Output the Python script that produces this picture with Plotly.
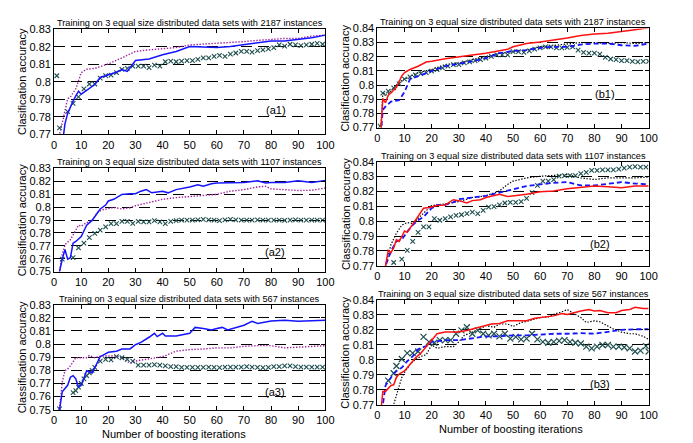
import plotly.graph_objects as go

# ---------------- data ----------------
iters_ticks = [0, 10, 20, 30, 40, 50, 60, 70, 80, 90, 100]
a_ticks = [0.75, 0.76, 0.77, 0.78, 0.79, 0.80, 0.81, 0.82, 0.83]
a_ticktext = ["0.75", "0.76", "0.77", "0.78", "0.79", "0.8", "0.81", "0.82", "0.83"]
b_ticks = [0.77, 0.78, 0.79, 0.80, 0.81, 0.82, 0.83, 0.84]
b_ticktext = ["0.77", "0.78", "0.79", "0.8", "0.81", "0.82", "0.83", "0.84"]

titles = [
    "Training on 3 equal size distributed data sets with 2187 instances",
    "Training on 3 equal size distributed data sets with 2187 instances",
    "Training on 3 equal size distributed data sets with 1107 instances",
    "Training on 3 equal size distributed data sets with 1107 instances",
    "Training on 3 equal size distributed data sets with 567 instances",
    "Training on 3 equal size distributed data sets of size 567 instances",
]
ylabels = ["Clasification accuracy", "Clasification accuracy",
           "Classification accuracy", "Classification accuracy",
           "Classification accuracy", "Classification accuracy"]
panel_tags = ["(a1)", "(b1)", "(a2)", "(b2)", "(a3)", "(b3)"]
tag_x = [82, 84, 81.5, 82, 81.5, 82]
tag_y = [0.7838, 0.7935, 0.765, 0.7844, 0.7636, 0.7836]
xlabel = "Number of boosting iterations"

# (a1)
a1_blue_x = [1, 3, 4, 5, 6, 7, 8, 9, 10, 12, 13, 15, 17, 20, 23, 25, 27, 30, 35, 40,
             45, 50, 55, 60, 65, 70, 75, 80, 85, 90, 95, 100]
a1_blue_y = [0.74, 0.765, 0.776, 0.782, 0.786, 0.789, 0.792, 0.7947, 0.793, 0.795,
             0.796, 0.7985, 0.8025, 0.804, 0.8055, 0.807, 0.806, 0.8122, 0.8131, 0.8155,
             0.8174, 0.8202, 0.82, 0.8196, 0.8202, 0.8211, 0.8224, 0.8233, 0.8233, 0.8243,
             0.8252, 0.8267]
a1_mag_x = [1, 2, 3, 4, 5, 6, 8, 10, 12, 15, 18, 20, 25, 28, 30, 35, 40, 45, 50, 55,
            60, 65, 70, 75, 80, 85, 90, 95, 100]
a1_mag_y = [0.75, 0.77, 0.7765, 0.783, 0.7904, 0.7914, 0.796, 0.8053, 0.8072, 0.8077,
            0.809, 0.8103, 0.8137, 0.8159, 0.8174, 0.8183, 0.8189, 0.8196, 0.8211, 0.8215,
            0.8219, 0.8226, 0.823, 0.8237, 0.8243, 0.8248, 0.8248, 0.8261, 0.8267]
a1_x_x = [1, 2] + list(range(5, 100, 2))
a1_x_y = [0.8035, 0.7737, 0.783, 0.7877, 0.7914, 0.796, 0.7988, 0.7988, 0.8022, 0.8036,
          0.8038, 0.8053, 0.8072, 0.8077, 0.809, 0.809, 0.809, 0.8081, 0.8096, 0.809,
          0.8115, 0.8118, 0.8115, 0.8118, 0.8122, 0.8122, 0.8128, 0.8137, 0.8137, 0.8146,
          0.8152, 0.8146, 0.8159, 0.8165, 0.8174, 0.8174, 0.8170, 0.8178, 0.8183, 0.8189,
          0.8196, 0.8211, 0.8204, 0.8215, 0.8211, 0.8207, 0.8211, 0.8215, 0.822, 0.8215]

# (b1)
b1_red_x = [1, 2, 3, 4, 5, 7, 9, 10, 12, 15, 18, 20, 25, 30, 35, 40, 45, 48, 50, 55,
            60, 65, 70, 75, 80, 85, 90, 95, 100]
b1_red_y = [0.76, 0.7905, 0.7875, 0.7928, 0.7944, 0.7985, 0.8065, 0.8088, 0.811, 0.8133,
            0.8163, 0.8168, 0.8186, 0.8202, 0.8213, 0.8225, 0.8241, 0.8252, 0.827, 0.8293,
            0.8304, 0.8316, 0.8332, 0.835, 0.8361, 0.8366, 0.8377, 0.8391, 0.8405]
b1_blue_x = [1, 2, 3, 5, 8, 10, 12, 15, 20, 25, 30, 35, 40, 45, 50, 55, 60, 65, 70, 75,
             80, 85, 90, 95, 100]
b1_blue_y = [0.76, 0.7825, 0.7849, 0.7883, 0.7894, 0.7951, 0.8042, 0.8065, 0.8099, 0.8133,
             0.8149, 0.8168, 0.819, 0.8225, 0.8241, 0.8247, 0.8263, 0.827, 0.827, 0.8286,
             0.8293, 0.8293, 0.8281, 0.8277, 0.8293]
b1_black_x = [1, 2, 3, 5, 8, 10, 15, 20, 25, 30, 35, 40, 45, 50, 55, 60, 65, 70, 75, 80,
              85, 90, 95, 100]
b1_black_y = [0.76, 0.7951, 0.7928, 0.7958, 0.802, 0.8042, 0.8088, 0.811, 0.8145, 0.8156,
              0.8179, 0.8202, 0.8225, 0.8236, 0.8247, 0.827, 0.8281, 0.8293, 0.83, 0.83,
              0.8293, 0.83, 0.8293, 0.83]
b1_x_x = [1] + list(range(2, 101, 2))
b1_x_y = [0.7711, 0.7944, 0.7958, 0.798, 0.8008, 0.8042, 0.8058, 0.8072, 0.8081, 0.8088,
          0.8099, 0.811, 0.8122, 0.8133, 0.8145, 0.8145, 0.8156, 0.8163, 0.8172, 0.8179,
          0.819, 0.8202, 0.8213, 0.8213, 0.8213, 0.8236, 0.8236, 0.8231, 0.8241, 0.8254,
          0.8263, 0.827, 0.827, 0.8263, 0.8263, 0.8266, 0.827, 0.8247, 0.8231, 0.8225,
          0.8225, 0.8218, 0.8195, 0.8184, 0.8179, 0.8172, 0.8172, 0.8168, 0.8163, 0.8168,
          0.8168]

# (a2)
a2_blue_x = [1, 2, 3, 4, 5, 6, 7, 8, 10, 12, 14, 15, 17, 19, 20, 22, 25, 28, 30, 32,
             34, 36, 40, 42, 45, 50, 53, 55, 58, 60, 65, 70, 75, 78, 80, 85, 90, 95, 100]
a2_blue_y = [0.73, 0.75, 0.7596, 0.7671, 0.7596, 0.7608, 0.7721, 0.7734, 0.7772, 0.786,
             0.7897, 0.793, 0.7986, 0.8016, 0.8048, 0.8061, 0.8099, 0.8104, 0.8104, 0.8124,
             0.8136, 0.8111, 0.8124, 0.8111, 0.8136, 0.8157, 0.8174, 0.8162, 0.8182, 0.8187,
             0.8187, 0.8192, 0.8204, 0.8187, 0.8192, 0.8192, 0.8204, 0.8192, 0.8207]
a2_mag_x = [1, 2, 3, 4, 6, 7, 9, 10, 12, 14, 16, 18, 20, 22, 25, 28, 30, 35, 40, 45,
            50, 55, 60, 65, 70, 75, 78, 80, 85, 90, 95, 100]
a2_mag_y = [0.73, 0.75, 0.7633, 0.7709, 0.7747, 0.7789, 0.786, 0.7852, 0.788, 0.7897,
            0.796, 0.798, 0.799, 0.7998, 0.7986, 0.7995, 0.8011, 0.8036, 0.8061, 0.8074,
            0.8081, 0.8091, 0.8099, 0.8124, 0.8136, 0.8157, 0.8162, 0.8142, 0.8136, 0.8129,
            0.8131, 0.8149]
a2_x_x = [3] + list(range(7, 100, 2))
a2_x_y = [0.7596, 0.7608, 0.7684, 0.7721, 0.7764, 0.7797, 0.7822, 0.7847, 0.7872, 0.7872,
          0.789, 0.789, 0.7875, 0.789, 0.7885, 0.7885, 0.7895, 0.7885, 0.7872, 0.789,
          0.7895, 0.79, 0.79, 0.79, 0.7902, 0.7905, 0.7902, 0.79, 0.7895, 0.7902,
          0.7905, 0.7902, 0.79, 0.79, 0.79, 0.7902, 0.79, 0.79, 0.79, 0.79,
          0.7898, 0.79, 0.7902, 0.79, 0.79, 0.79, 0.79, 0.79]

# (b2)
b2_red_x = [1, 3, 4, 5, 6, 7, 8, 9, 10, 11, 13, 15, 17, 19, 22, 25, 28, 30, 33, 35,
            38, 40, 43, 45, 48, 50, 55, 60, 65, 70, 75, 80, 85, 90, 95, 100]
b2_red_y = [0.75, 0.77, 0.7803, 0.7788, 0.782, 0.7875, 0.7864, 0.7897, 0.7934, 0.7925,
            0.7978, 0.8039, 0.8087, 0.8092, 0.8105, 0.8109, 0.8144, 0.8138, 0.8122, 0.8138,
            0.8144, 0.8159, 0.817, 0.8181, 0.8166, 0.817, 0.8181, 0.8197, 0.8203, 0.8218,
            0.8225, 0.8236, 0.8232, 0.8225, 0.8236, 0.8236]
b2_blue_x = [1, 3, 5, 7, 9, 11, 13, 15, 17, 20, 22, 25, 28, 30, 35, 40, 45, 50, 55, 60,
             65, 70, 75, 80, 85, 90, 95, 100]
b2_blue_y = [0.75, 0.77, 0.7798, 0.7864, 0.7875, 0.793, 0.7973, 0.8006, 0.8028, 0.8087,
             0.8109, 0.8109, 0.8127, 0.8148, 0.8159, 0.817, 0.8192, 0.8214, 0.8236, 0.8247,
             0.8258, 0.8262, 0.824, 0.824, 0.8253, 0.8262, 0.8253, 0.8247]
b2_black_x = [1, 3, 5, 7, 9, 11, 13, 15, 18, 20, 25, 30, 35, 40, 45, 48, 50, 55, 60, 65,
              70, 75, 80, 85, 90, 95, 100]
b2_black_y = [0.75, 0.77, 0.7842, 0.7919, 0.7973, 0.7991, 0.7984, 0.8017, 0.8072, 0.8105,
              0.8116, 0.8131, 0.8159, 0.817, 0.8203, 0.8247, 0.8269, 0.8291, 0.8302, 0.8306,
              0.8313, 0.8291, 0.828, 0.8291, 0.8291, 0.8291, 0.8297]
b2_x_x = [6, 9] + list(range(11, 100, 2))
b2_x_y = [0.7722, 0.7744, 0.7803, 0.7864, 0.7925, 0.7962, 0.7962, 0.8017, 0.8006, 0.8017,
          0.8028, 0.8039, 0.8043, 0.805, 0.8061, 0.805, 0.8072, 0.8094, 0.8098, 0.8109,
          0.8122, 0.8127, 0.8127, 0.8131, 0.8153, 0.8192, 0.824, 0.8269, 0.8269, 0.828,
          0.8302, 0.8306, 0.8306, 0.8306, 0.8319, 0.8328, 0.8341, 0.8341, 0.8345, 0.8345,
          0.8345, 0.835, 0.8356, 0.8363, 0.8367, 0.8363, 0.8363]

# (a3)
a3_blue_x = [1, 2, 3, 5, 6, 7, 8, 9, 10, 11, 12, 14, 15, 17, 20, 23, 25, 28, 30, 32,
             35, 37, 38, 40, 41, 45, 50, 52, 55, 58, 60, 62, 64, 66, 70, 73, 75, 80, 85, 90,
             95, 100]
a3_blue_y = [0.72, 0.75, 0.7636, 0.7686, 0.7748, 0.776, 0.7735, 0.7673, 0.7686, 0.7748,
             0.7797, 0.778, 0.7822, 0.7904, 0.7938, 0.7946, 0.7963, 0.7963, 0.7995, 0.8013,
             0.8052, 0.8082, 0.8057, 0.8082, 0.8062, 0.8062, 0.8082, 0.8127, 0.8119, 0.8107,
             0.8119, 0.8127, 0.8107, 0.8119, 0.8144, 0.8174, 0.8157, 0.8176, 0.8181, 0.8174,
             0.8176, 0.8181]
a3_mag_x = [1, 2, 3, 4, 5, 6, 8, 10, 12, 13, 15, 17, 20, 23, 25, 27, 28, 30, 35, 40,
            45, 50, 55, 60, 65, 70, 75, 80, 85, 90, 95, 100]
a3_mag_y = [0.73, 0.75, 0.7711, 0.7797, 0.781, 0.7834, 0.7896, 0.7896, 0.7896, 0.7913,
            0.7896, 0.7909, 0.7909, 0.7909, 0.7896, 0.7871, 0.7854, 0.7871, 0.7889, 0.7904,
            0.7946, 0.7958, 0.7963, 0.7971, 0.7971, 0.7983, 0.7988, 0.7988, 0.7971, 0.7978,
            0.7983, 0.7988]
a3_x_x = [2, 7, 8, 9, 10, 11, 12, 13, 14, 15] + list(range(17, 100, 2))
a3_x_y = [0.7507, 0.7631, 0.7645, 0.7673, 0.770, 0.7735, 0.776, 0.778, 0.780, 0.7822,
          0.7871, 0.7884, 0.788, 0.7904, 0.7896, 0.7884, 0.7871, 0.7839, 0.7839, 0.7839,
          0.7844, 0.7839, 0.7834, 0.7829, 0.7829, 0.7822, 0.7822, 0.7822, 0.7822, 0.7822,
          0.7825, 0.7822, 0.782, 0.7825, 0.7825, 0.7825, 0.7825, 0.7829, 0.7825, 0.7822,
          0.782, 0.7822, 0.7829, 0.7829, 0.7834, 0.7834, 0.7829, 0.7825, 0.7825, 0.7825,
          0.7825, 0.7825]

# (b3)
b3_red_x = [1, 2, 3, 4, 5, 6, 7, 8, 10, 12, 14, 16, 18, 20, 22, 25, 30, 33, 35, 40,
            42, 45, 48, 50, 55, 58, 60, 65, 68, 70, 75, 78, 80, 82, 85, 88, 90, 93, 95, 98,
            100]
b3_red_y = [0.76, 0.779, 0.779, 0.7808, 0.7829, 0.7834, 0.7883, 0.7905, 0.7926, 0.7969,
            0.8012, 0.8045, 0.8088, 0.8131, 0.8174, 0.8185, 0.8185, 0.8196, 0.8206, 0.8228,
            0.8239, 0.8243, 0.826, 0.826, 0.826, 0.8277, 0.8282, 0.8293, 0.8308, 0.8303,
            0.8325, 0.8336, 0.8325, 0.8329, 0.8314, 0.8314, 0.8329, 0.8336, 0.835, 0.8342,
            0.8342]
b3_blue_x = [1, 2, 3, 5, 7, 9, 11, 13, 15, 18, 20, 25, 30, 35, 40, 45, 50, 55, 60, 65,
             70, 75, 80, 85, 90, 95, 100]
b3_blue_y = [0.75, 0.77, 0.7829, 0.7883, 0.7926, 0.7948, 0.7991, 0.8023, 0.8071, 0.8092,
             0.812, 0.8131, 0.8131, 0.8142, 0.8157, 0.8157, 0.8163, 0.8163, 0.817, 0.8174,
             0.8174, 0.8178, 0.8174, 0.8189, 0.82, 0.8204, 0.8204]
b3_black_x = [1, 6, 7, 8, 9, 10, 12, 14, 16, 18, 20, 22, 25, 28, 30, 32, 35, 38, 40, 43,
              45, 48, 50, 53, 55, 58, 60, 63, 65, 68, 70, 72, 75, 77, 80, 82, 85, 87, 90, 93,
              95, 98, 100]
b3_black_y = [0.74, 0.77, 0.7765, 0.7829, 0.7883, 0.7916, 0.7969, 0.8002, 0.8023, 0.8034,
              0.8099, 0.8077, 0.8088, 0.8088, 0.812, 0.8163, 0.8185, 0.8206, 0.8228, 0.8217,
              0.8239, 0.8239, 0.8222, 0.8249, 0.8256, 0.8271, 0.8282, 0.8286, 0.8303, 0.832,
              0.8335, 0.8314, 0.8282, 0.8249, 0.826, 0.8254, 0.8222, 0.8206, 0.8185, 0.8174,
              0.8174, 0.8157, 0.8136]
b3_x_x = [4, 6, 7, 9] + list(range(11, 100, 2)) + [100]
b3_x_y = [0.7862, 0.7911, 0.7959, 0.8006, 0.8045, 0.8045, 0.8056, 0.8153, 0.812, 0.8114,
          0.8131, 0.8131, 0.8131, 0.8174, 0.8196, 0.8217, 0.8174, 0.8196, 0.8174, 0.8163,
          0.8174, 0.8157, 0.8174, 0.8142, 0.8153, 0.8136, 0.8142, 0.8174, 0.8136, 0.812,
          0.8114, 0.812, 0.8127, 0.8131, 0.812, 0.8114, 0.8109, 0.8088, 0.8077, 0.8088,
          0.8099, 0.8099, 0.8088, 0.8088, 0.8084, 0.8077, 0.8056, 0.8062, 0.8092, 0.8056]

# ---------------- layout geometry (pixels) ----------------
W, H = 693, 443
col_px = {"a": (52, 328), "b": (381, 657)}
rows_px = [(24, 132), (23, 125), (167, 273), (160, 267), (307, 415), (302, 410)]  # top,bottom
FONT = "Liberation Sans, Arial, sans-serif"

BLUE = "#1414ff"
MAG = "#a020a0"
RED = "#ff1010"
BLACK = "#000000"
GREEN = "#1f4f4f"

fig = go.Figure()


def ax_name(i):
    return "" if i == 1 else str(i)


def add_line(i, x, y, color, dash, width):
    fig.add_trace(go.Scatter(x=x, y=y, mode="lines", xaxis="x" + ax_name(i), yaxis="y" + ax_name(i),
                             line=dict(color=color, dash=dash, width=width), showlegend=False,
                             hoverinfo="skip"))


def add_marks(i, x, y, size=4.5, lw=1.1):
    fig.add_trace(go.Scatter(x=x, y=y, mode="markers", xaxis="x" + ax_name(i), yaxis="y" + ax_name(i),
                             marker=dict(symbol="x-thin", size=size, color=GREEN,
                                         line=dict(color=GREEN, width=lw)),
                             showlegend=False, hoverinfo="skip"))


DOT = "1.4px,1.6px"
DASH = "5px,3px"

add_line(1, a1_mag_x, a1_mag_y, MAG, DOT, 1.4)
add_marks(1, a1_x_x, a1_x_y)
add_line(1, a1_blue_x, a1_blue_y, BLUE, "solid", 1.5)

add_line(2, b1_black_x, b1_black_y, BLACK, DOT, 1.2)
add_marks(2, b1_x_x, b1_x_y)
add_line(2, b1_blue_x, b1_blue_y, BLUE, DASH, 1.8)
add_line(2, b1_red_x, b1_red_y, RED, "solid", 1.5)

add_line(3, a2_mag_x, a2_mag_y, MAG, DOT, 1.4)
add_marks(3, a2_x_x, a2_x_y)
add_line(3, a2_blue_x, a2_blue_y, BLUE, "solid", 1.5)

add_line(4, b2_black_x, b2_black_y, BLACK, DOT, 1.2)
add_marks(4, b2_x_x, b2_x_y)
add_line(4, b2_blue_x, b2_blue_y, BLUE, DASH, 1.8)
add_line(4, b2_red_x, b2_red_y, RED, "solid", 1.5)

add_line(5, a3_mag_x, a3_mag_y, MAG, DOT, 1.4)
add_marks(5, a3_x_x, a3_x_y)
add_line(5, a3_blue_x, a3_blue_y, BLUE, "solid", 1.5)

add_line(6, b3_black_x, b3_black_y, BLACK, DOT, 1.2)
add_marks(6, b3_x_x, b3_x_y, size=6, lw=1.2)
add_line(6, b3_blue_x, b3_blue_y, BLUE, DASH, 1.8)
add_line(6, b3_red_x, b3_red_y, RED, "solid", 1.5)

layout = dict(width=W, height=H, autosize=False, margin=dict(l=0, r=0, t=0, b=0),
              paper_bgcolor="white", plot_bgcolor="white",
              font=dict(family=FONT, size=11, color="black"))
annotations = []
for i in range(1, 7):
    col = "a" if i % 2 == 1 else "b"
    x0, x1 = col_px[col]
    top, bot = rows_px[i - 1]
    xd = [x0 / W, x1 / W]
    yd = [1 - bot / H, 1 - top / H]
    if col == "a":
        yr = [0.77, 0.83] if i == 1 else [0.75, 0.83]
        tv = a_ticks[2:] if i == 1 else a_ticks
        tt = a_ticktext[2:] if i == 1 else a_ticktext
    else:
        yr = [0.77, 0.84]
        tv, tt = b_ticks, b_ticktext
    layout["xaxis" + ax_name(i)] = dict(
        domain=xd, range=[0, 100], anchor="y" + ax_name(i), tickvals=iters_ticks,
        ticks="inside", ticklen=4, tickcolor="black", showline=True, linecolor="black",
        linewidth=1, mirror="ticks", showgrid=False, zeroline=False,
        tickfont=dict(size=11, family=FONT, color="black"))
    layout["yaxis" + ax_name(i)] = dict(
        domain=yd, range=yr, anchor="x" + ax_name(i), tickvals=tv, ticktext=tt,
        ticks="inside", ticklen=4, tickcolor="black", showline=True, linecolor="black",
        linewidth=1, mirror="ticks", showgrid=True, gridcolor="black", gridwidth=1,
        griddash="11px,6px", zeroline=False,
        tickfont=dict(size=11, family=FONT, color="black"))
    # title
    annotations.append(dict(text=titles[i - 1], x=(xd[0] + xd[1]) / 2, y=yd[1], xref="paper",
                            yref="paper", xanchor="center", yanchor="bottom", showarrow=False,
                            yshift=-1, font=dict(size=9.2, family=FONT, color="black")))
    # y label
    annotations.append(dict(text=ylabels[i - 1], x=xd[0], y=(yd[0] + yd[1]) / 2, xref="paper",
                            yref="paper", xanchor="center", yanchor="middle", showarrow=False,
                            textangle=-90, xshift=-32, font=dict(size=11, family=FONT, color="black")))
    # panel tag
    annotations.append(dict(text=panel_tags[i - 1], x=tag_x[i - 1], y=tag_y[i - 1],
                            xref="x" + ax_name(i), yref="y" + ax_name(i), showarrow=False,
                            xanchor="center", yanchor="middle",
                            font=dict(size=11, family=FONT, color="black")))
    if i >= 5:
        annotations.append(dict(text=xlabel, x=(xd[0] + xd[1]) / 2, y=yd[0], xref="paper",
                                yref="paper", xanchor="center", yanchor="top", showarrow=False,
                                yshift=-16, xshift=(-16 if i == 5 else -2),
                                font=dict(size=11, family=FONT, color="black")))
layout["annotations"] = annotations
fig.update_layout(**layout)

fig.write_html("out.html", config={"displayModeBar": False},
               post_script="document.body.style.margin='0';")
